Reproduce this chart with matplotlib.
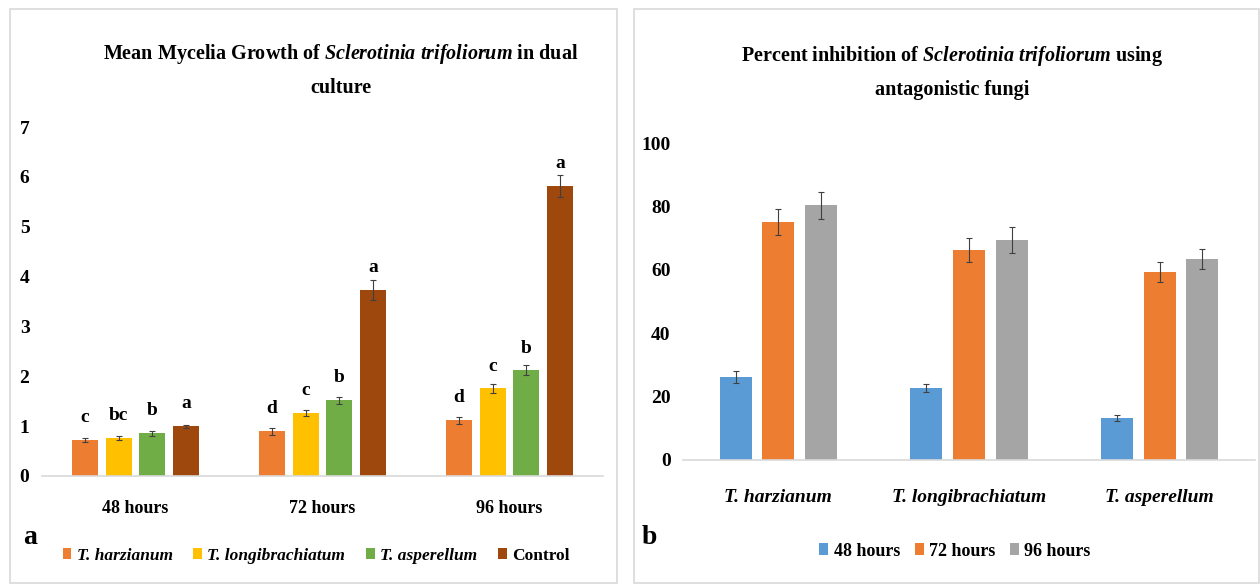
import numpy as np
import matplotlib
matplotlib.use("Agg")
import matplotlib.pyplot as plt
from matplotlib.patches import Rectangle

plt.rcParams['font.family'] = ['Liberation Serif', 'DejaVu Serif']
plt.rcParams['font.weight'] = 'bold'
plt.rcParams['mathtext.fontset'] = 'custom'
plt.rcParams['mathtext.rm'] = 'Liberation Serif:bold'
plt.rcParams['mathtext.it'] = 'Liberation Serif:italic:bold'

# panel a: mycelial growth in dual culture
times = ['48 hours', '72 hours', '96 hours']
growth_names = ['T. harzianum', 'T. longibrachiatum', 'T. asperellum', 'Control']
harzianum = [0.72, 0.90, 1.12]
longibrachiatum = [0.76, 1.26, 1.76]
asperellum = [0.86, 1.52, 2.12]
control = [1.00, 3.74, 5.82]
harzianum_err = [0.04, 0.07, 0.07]
longibrachiatum_err = [0.04, 0.06, 0.09]
asperellum_err = [0.05, 0.07, 0.10]
control_err = [0.03, 0.20, 0.22]
letters = [['c', 'd', 'd'], ['bc', 'c', 'c'], ['b', 'b', 'b'], ['a', 'a', 'a']]

# panel b: percent inhibition
fungi = ['T. harzianum', 'T. longibrachiatum', 'T. asperellum']
inhib_48 = [26.2, 22.7, 13.2]
inhib_72 = [75.1, 66.2, 59.3]
inhib_96 = [80.4, 69.4, 63.4]
inhib_48_err = [1.8, 1.4, 1.0]
inhib_72_err = [4.0, 3.8, 3.3]
inhib_96_err = [4.3, 4.0, 3.3]

fig = plt.figure(figsize=(12.6, 5.84), dpi=100)
W, H = 1260, 584

def px_axes(x0, x1, y_top, y_bot):
    return fig.add_axes([x0 / W, 1 - y_bot / H, (x1 - x0) / W, (y_bot - y_top) / H])

# light frames around each chart
for x0, x1 in [(10, 617), (634, 1259)]:
    fig.patches.append(Rectangle((x0 / W, 1 / H), (x1 - x0) / W, (574) / H,
                                 transform=fig.transFigure, fill=False,
                                 edgecolor='#D9D9D9', linewidth=1.2))

err_kw = dict(ecolor='#404040', elinewidth=0.8, capsize=2.5, capthick=0.8)

def style_axes(ax):
    for s in ['top', 'right', 'left']:
        ax.spines[s].set_visible(False)
    ax.spines['bottom'].set_color('#D9D9D9')
    ax.spines['bottom'].set_linewidth(1.2)
    ax.tick_params(length=0, labelsize=14)
    ax.tick_params(axis='y', pad=9)

# ---- panel a ----
ax1 = px_axes(42, 603, 127, 476)
x = np.arange(len(times))
cols_a = ['#ED7D31', '#FFC000', '#70AD47', '#9E480E']
series_a = [harzianum, longibrachiatum, asperellum, control]
errs_a = [harzianum_err, longibrachiatum_err, asperellum_err, control_err]
offs_a = [-0.27, -0.09, 0.09, 0.27]
for i in range(4):
    ax1.bar(x + offs_a[i], series_a[i], 0.14, color=cols_a[i], label=growth_names[i],
            yerr=errs_a[i], error_kw=err_kw)
    for j in range(3):
        ax1.annotate(letters[i][j], (x[j] + offs_a[i], series_a[i][j]),
                     xytext=(0, 16), textcoords='offset points',
                     ha='center', va='center', fontsize=14, fontweight='bold')
ax1.set_xlim(-0.5, 2.5)
ax1.set_ylim(0, 7)
ax1.set_yticks(range(8))
ax1.set_xticks(x)
style_axes(ax1)
ax1.set_xticklabels(times, fontsize=13)
ax1.tick_params(axis='x', pad=17)
leg1 = fig.legend(loc='center', bbox_to_anchor=(316 / W, 1 - 556 / H), ncol=4,
                  frameon=False, fontsize=12.5, handlelength=0.5, handleheight=0.6,
                  handletextpad=0.3, columnspacing=1.2,
                  handles=ax1.get_legend_handles_labels()[0][:4],
                  labels=growth_names)
for t in leg1.get_texts()[:3]:
    t.set_fontstyle('italic')

fig.text(341 / W, 1 - 70 / H,
         'Mean Mycelia Growth of $\\mathit{Sclerotinia\\ trifoliorum}$ in dual\nculture',
         ha='center', va='center', fontsize=14.5, fontweight='bold', linespacing=1.75)
fig.text(30 / W, 1 - 538 / H, 'a', ha='center', va='center', fontsize=20, fontweight='bold')

# ---- panel b ----
ax2 = px_axes(683, 1255, 143, 460)
xb = np.arange(len(fungi))
cols_b = ['#5B9BD5', '#ED7D31', '#A5A5A5']
series_b = [inhib_48, inhib_72, inhib_96]
errs_b = [inhib_48_err, inhib_72_err, inhib_96_err]
offs_b = [-0.223, 0.0, 0.223]
for i in range(3):
    ax2.bar(xb + offs_b[i], series_b[i], 0.168, color=cols_b[i], label=times[i],
            yerr=errs_b[i], error_kw=err_kw)
ax2.set_xlim(-0.5, 2.5)
ax2.set_ylim(0, 100)
ax2.set_yticks(range(0, 101, 20))
ax2.set_xticks(xb)
style_axes(ax2)
ax2.set_xticklabels(fungi, fontstyle='italic', fontsize=14)
ax2.tick_params(axis='x', pad=21)
fig.legend(loc='center', bbox_to_anchor=(955 / W, 1 - 551 / H), ncol=3,
           frameon=False, fontsize=13, handlelength=0.5, handleheight=0.6,
           handletextpad=0.3, columnspacing=0.8,
           handles=ax2.get_legend_handles_labels()[0], labels=times)

fig.text(952 / W, 1 - 72 / H,
         'Percent inhibition of $\\mathit{Sclerotinia\\ trifoliorum}$ using\nantagonistic fungi',
         ha='center', va='center', fontsize=14.5, fontweight='bold', linespacing=1.85)
fig.text(649 / W, 1 - 537 / H, 'b', ha='center', va='center', fontsize=20, fontweight='bold')

fig.savefig('out.png', dpi=100)
